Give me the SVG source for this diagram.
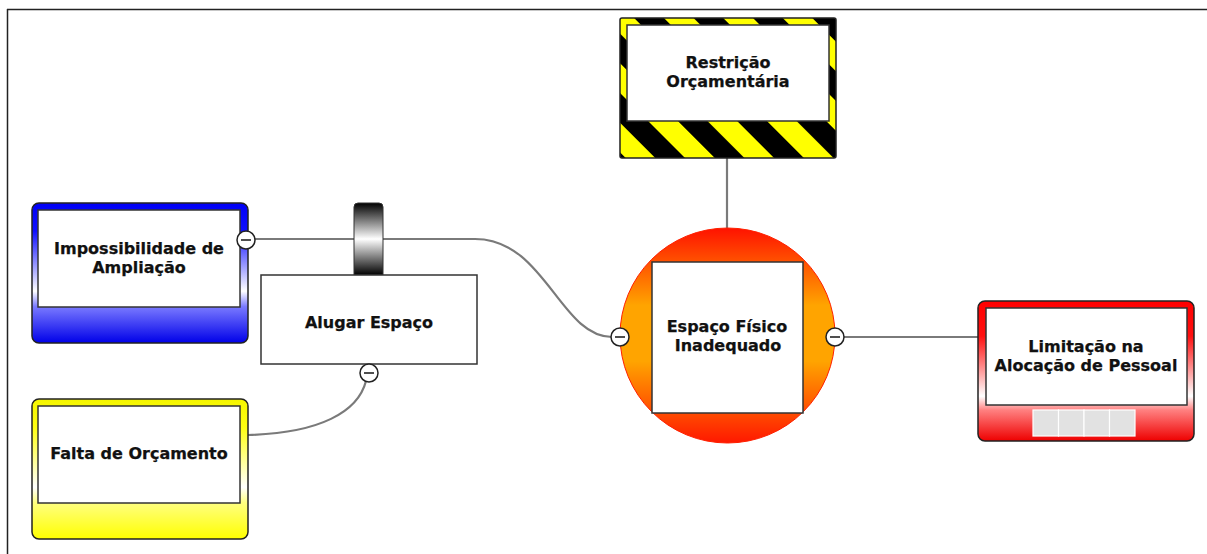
<svg xmlns="http://www.w3.org/2000/svg" width="1207" height="554" viewBox="0 0 1207 554">
<style>
.t{font-family:"DejaVu Sans","Liberation Sans",sans-serif;font-weight:bold;font-size:16px;fill:#111;stroke:#111;stroke-width:0.25;text-anchor:middle}
.outer{stroke:#222;stroke-width:1.5}
.inner{fill:#fff;stroke:#333;stroke-width:1.5}
.conn{fill:none;stroke:#7a7a7a;stroke-width:2.2}
.minus circle{fill:#fff;stroke:#222;stroke-width:1.5}
.minus line{stroke:#222;stroke-width:1.6}
</style>
<defs>
<linearGradient id="gBlue" x1="0" y1="0" x2="0" y2="1">
<stop offset="0" stop-color="#0000f5"/><stop offset="0.2" stop-color="#1010ff"/><stop offset="0.63" stop-color="#ffffff"/><stop offset="0.74" stop-color="#7a7aff"/><stop offset="1" stop-color="#0000e8"/>
</linearGradient>
<linearGradient id="gYellow" x1="0" y1="0" x2="0" y2="1">
<stop offset="0" stop-color="#f5f500"/><stop offset="0.2" stop-color="#ffff10"/><stop offset="0.63" stop-color="#ffffff"/><stop offset="0.74" stop-color="#ffff80"/><stop offset="1" stop-color="#ffff00"/>
</linearGradient>
<linearGradient id="gRed" x1="0" y1="0" x2="0" y2="1">
<stop offset="0" stop-color="#ff0000"/><stop offset="0.25" stop-color="#ff1010"/><stop offset="0.68" stop-color="#ffffff"/><stop offset="0.78" stop-color="#ff8080"/><stop offset="1" stop-color="#ee0000"/>
</linearGradient>
<linearGradient id="gCircle" x1="0" y1="0" x2="0" y2="1">
<stop offset="0" stop-color="#ff1200"/><stop offset="0.36" stop-color="#ffa400"/><stop offset="0.62" stop-color="#ffa400"/><stop offset="1" stop-color="#ff1800"/>
</linearGradient>
<linearGradient id="gTab" x1="0" y1="0" x2="0" y2="1">
<stop offset="0" stop-color="#000"/><stop offset="0.5" stop-color="#fff"/><stop offset="1" stop-color="#000"/>
</linearGradient>
<pattern id="stripes" patternUnits="userSpaceOnUse" width="42" height="42" patternTransform="rotate(-45 620 18)">
<rect width="42" height="42" fill="#ffff00"/><rect width="21" height="42" fill="#000"/>
</pattern>
</defs>

<g id="frame">
<line x1="7" y1="9.5" x2="1207" y2="9.5" stroke="#222" stroke-width="1.5"/>
<line x1="7.5" y1="9" x2="7.5" y2="554" stroke="#222" stroke-width="1.5"/>
</g>

<g id="connectors">
<line class="conn" x1="727" y1="158" x2="727" y2="229"/>
<path class="conn" d="M255,239 L475,239 C545,239 560,337 612,337"/>
<line class="conn" x1="843" y1="337" x2="978" y2="337"/>
<path class="conn" d="M248,435 C320,433 358,412 366,381"/>
</g>

<g id="node-restricao">
<rect x="620" y="18" width="216" height="140" fill="url(#stripes)" class="outer" rx="2"/>
<rect x="627" y="25" width="202" height="96" class="inner"/>
<text class="t" x="728" y="68">Restrição</text>
<text class="t" x="728" y="87">Orçamentária</text>
</g>

<g id="node-espaco">
<circle cx="727.5" cy="335.5" r="107.5" fill="url(#gCircle)" stroke="#ff2000" stroke-width="1"/>
<rect x="652" y="262" width="151" height="151" class="inner" stroke-width="2"/>
<text class="t" x="727" y="332">Espaço Físico</text>
<text class="t" x="728" y="351">Inadequado</text>
<g class="minus"><circle cx="620" cy="337" r="9"/><line x1="615" y1="337" x2="625" y2="337"/></g>
<g class="minus"><circle cx="835" cy="337" r="9"/><line x1="830" y1="337" x2="840" y2="337"/></g>
</g>

<g id="node-limitacao">
<rect x="978" y="301" width="216" height="140" rx="7" fill="url(#gRed)" class="outer"/>
<rect x="986" y="308" width="201" height="97" class="inner"/>
<text class="t" x="1086" y="352">Limitação na</text>
<text class="t" x="1086" y="371">Alocação de Pessoal</text>
<g fill="#e2e2e2" stroke="#fff" stroke-width="1.2">
<rect x="1033" y="410" width="25.5" height="26"/>
<rect x="1058.5" y="410" width="25.5" height="26"/>
<rect x="1084" y="410" width="25.5" height="26"/>
<rect x="1109.5" y="410" width="25.5" height="26"/>
</g>
</g>

<g id="node-impossibilidade">
<rect x="32" y="203" width="216" height="140" rx="7" fill="url(#gBlue)" class="outer"/>
<rect x="38" y="210" width="202" height="97" class="inner"/>
<text class="t" x="139" y="254">Impossibilidade de</text>
<text class="t" x="139" y="273">Ampliação</text>
<g class="minus"><circle cx="246" cy="240" r="9"/><line x1="241" y1="240" x2="251" y2="240"/></g>
</g>

<g id="node-falta">
<rect x="32" y="399" width="216" height="140" rx="7" fill="url(#gYellow)" class="outer"/>
<rect x="38" y="406" width="202" height="97" class="inner"/>
<text class="t" x="139" y="459">Falta de Orçamento</text>
</g>

<g id="node-alugar">
<path d="M354,275 L354,207 Q354,203 358,203 L379,203 Q383,203 383,207 L383,275 Z" fill="url(#gTab)" stroke="#333" stroke-width="1"/>
<rect x="261" y="275" width="216" height="89" class="inner"/>
<text class="t" x="369" y="328">Alugar Espaço</text>
<g class="minus"><circle cx="369" cy="373" r="9"/><line x1="364" y1="373" x2="374" y2="373"/></g>
</g>
</svg>
